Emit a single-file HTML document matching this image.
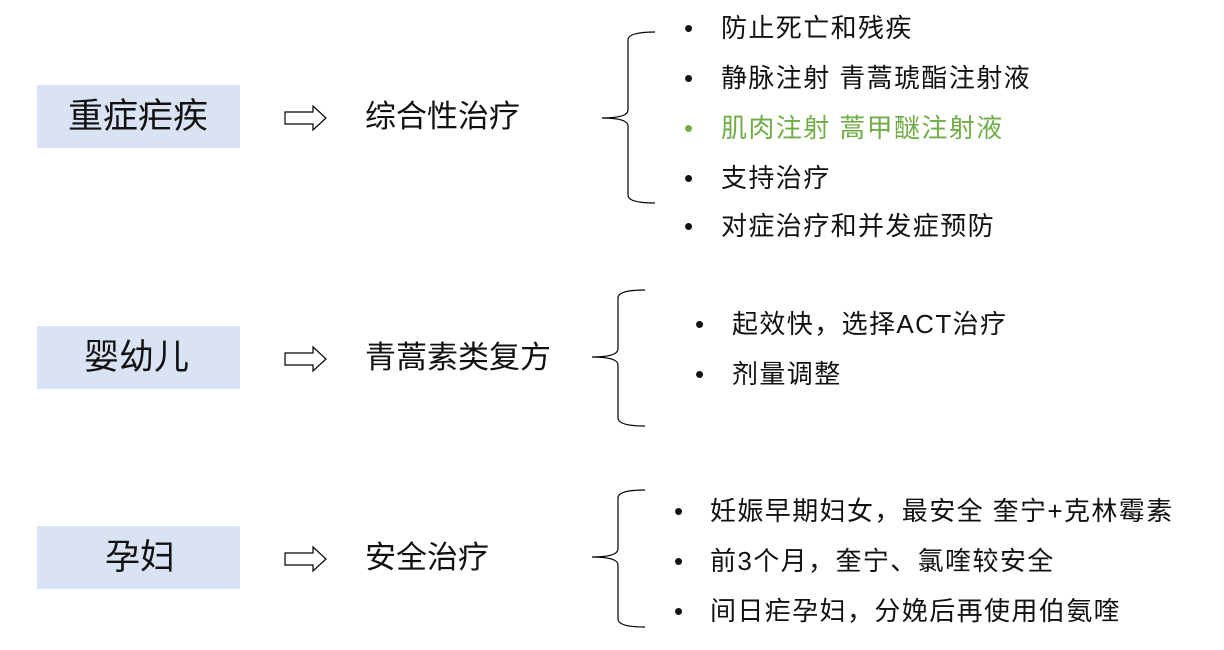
<!DOCTYPE html>
<html><head><meta charset="utf-8"><style>
body{margin:0;width:1224px;height:650px;background:#fff;position:relative;overflow:hidden;font-family:"Liberation Sans","Noto Sans CJK SC",sans-serif;color:#111}
.box{position:absolute;left:37px;width:203px;height:63px;background:#dae3f3}
.t{position:absolute;white-space:nowrap;line-height:1}
.big{font-size:31px}
.lab{font-size:35px}
.li{font-size:26px;letter-spacing:1.4px}
.g{color:#70ad47}
svg{position:absolute;left:0;top:0}
</style></head><body>
<div class="box" style="top:85px"></div>
<div class="box" style="top:326px"></div>
<div class="box" style="top:526px"></div>
<div class="t lab" style="left:68px;top:99px">重症疟疾</div>
<div class="t lab" style="left:84px;top:340px">婴幼儿</div>
<div class="t lab" style="left:105px;top:540px">孕妇</div>
<div class="t big" style="left:365px;top:101px">综合性治疗</div>
<div class="t big" style="left:365px;top:342px">青蒿素类复方</div>
<div class="t big" style="left:365px;top:542px">安全治疗</div>
<svg width="1224" height="650" fill="none" stroke="#000" stroke-width="1.2">
<path d="M285 112H313V106L326 118L313 130V124H285Z"/>
<path d="M285 353H313V347L326 359L313 371V365H285Z"/>
<path d="M285 553H313V547L326 559L313 571V565H285Z"/>
<path d="M655 32Q628 32 628 40V110Q628 118 602 118Q628 118 628 126V195Q628 203 655 203"/>
<path d="M645 290Q618 290 618 298V349Q618 357 592 357Q618 357 618 365V418Q618 426 645 426"/>
<path d="M645 490Q618 490 618 498V549Q618 557 592 557Q618 557 618 565V619Q618 627 645 627"/>
</svg>
<div class="t li" style="left:684px;top:15px">•</div><div class="t li" style="left:721px;top:15px">防止死亡和残疾</div>
<div class="t li" style="left:684px;top:65px">•</div><div class="t li" style="left:721px;top:65px">静脉注射 青蒿琥酯注射液</div>
<div class="t li g" style="left:684px;top:115px">•</div><div class="t li g" style="left:721px;top:115px">肌肉注射 蒿甲醚注射液</div>
<div class="t li" style="left:684px;top:165px">•</div><div class="t li" style="left:721px;top:165px">支持治疗</div>
<div class="t li" style="left:684px;top:213px">•</div><div class="t li" style="left:721px;top:213px">对症治疗和并发症预防</div>
<div class="t li" style="left:695px;top:311px">•</div><div class="t li" style="left:732px;top:311px">起效快，选择ACT治疗</div>
<div class="t li" style="left:695px;top:361px">•</div><div class="t li" style="left:732px;top:361px">剂量调整</div>
<div class="t li" style="left:674px;top:498px">•</div><div class="t li" style="left:710px;top:498px">妊娠早期妇女，最安全 奎宁+克林霉素</div>
<div class="t li" style="left:674px;top:548px">•</div><div class="t li" style="left:710px;top:548px">前3个月，奎宁、氯喹较安全</div>
<div class="t li" style="left:674px;top:598px">•</div><div class="t li" style="left:710px;top:598px">间日疟孕妇，分娩后再使用伯氨喹</div>
</body></html>
